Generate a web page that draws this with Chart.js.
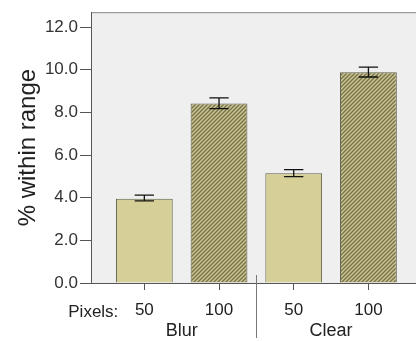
<!DOCTYPE html>
<html><head><meta charset="utf-8">
<script src="https://cdn.jsdelivr.net/npm/chart.js@4/dist/chart.umd.min.js"></script>
<style>html,body{margin:0;padding:0;background:#fff;overflow:hidden}#wrap{width:416px;height:341px;position:relative}</style>
</head><body><div id="wrap"><canvas id="c" width="416" height="341"></canvas></div>
<script>
// ---- data ----
const categories = ['50', '100', '50', '100'];
const groups = ['Blur', 'Clear'];
const groupOf = [0, 0, 1, 1];
const values = [3.95, 8.42, 5.15, 9.88];
const errLow = [3.85, 8.18, 4.99, 9.66];
const errHigh = [4.12, 8.68, 5.32, 10.12];
const yTicks = [0, 2, 4, 6, 8, 10, 12];
const hatched = [false, true, false, true];
const prefixLabel = 'Pixels:';
const yTitle = '% within range';

const FONT = "'Liberation Sans', Arial, sans-serif";

function makeHatch() {
  const c = document.createElement('canvas');
  c.width = 4; c.height = 4;
  const g = c.getContext('2d');
  g.fillStyle = '#ccc692';
  g.fillRect(0, 0, 4, 4);
  g.strokeStyle = '#77724a';
  g.lineWidth = 1.4;
  g.beginPath();
  g.moveTo(-1, 5); g.lineTo(5, -1);
  g.moveTo(-1, 1); g.lineTo(1, -1);
  g.moveTo(3, 5); g.lineTo(5, 3);
  g.stroke();
  return g.createPattern(c, 'repeat');
}
const hatch = makeHatch();
const plain = '#d6cf98';

const groupCenters = groups.map((_, gi) => {
  const idx = groupOf.map((g, i) => g === gi ? i : null).filter(v => v !== null);
  return idx.reduce((a, b) => a + b, 0) / idx.length;
});

const X_MIN = -0.714, X_MAX = 3.637;

const framePlugin = {
  id: 'frame',
  beforeDraw(chart) {
    const {ctx, chartArea: a} = chart;
    ctx.save();
    ctx.fillStyle = '#efefef';
    ctx.fillRect(a.left, a.top, a.right - a.left, a.bottom - a.top);
    ctx.strokeStyle = '#8a8a8a';
    ctx.lineWidth = 1;
    ctx.beginPath();
    ctx.moveTo(a.left, a.top + 0.5);
    ctx.lineTo(a.right, a.top + 0.5);
    ctx.stroke();
    ctx.restore();
  },
  afterDraw(chart) {
    const {ctx, chartArea: a} = chart;
    const xs = chart.scales.x;
    ctx.save();
    const dx = Math.round(xs.getPixelForValue(1.5)) + 0.5;
    ctx.strokeStyle = '#777';
    ctx.lineWidth = 1;
    ctx.beginPath();
    ctx.moveTo(dx, a.bottom - 8);
    ctx.lineTo(dx, chart.height - 3);
    ctx.stroke();
    ctx.fillStyle = '#222';
    ctx.font = '17px ' + FONT;
    ctx.textAlign = 'right';
    ctx.textBaseline = 'middle';
    ctx.fillText(prefixLabel, xs.getPixelForValue(0) - 26, 312);
    ctx.restore();
  }
};

const errPlugin = {
  id: 'err',
  afterDatasetsDraw(chart) {
    const {ctx} = chart;
    const xs = chart.scales.x, ys = chart.scales.y;
    const meta = chart.getDatasetMeta(0);
    ctx.save();
    ctx.strokeStyle = '#111';
    ctx.lineWidth = 1.3;
    values.forEach((v, i) => {
      const x = xs.getPixelForValue(i);
      const w = meta.data[i].width * 0.34 / 2;
      const yl = ys.getPixelForValue(errLow[i]);
      const yh = ys.getPixelForValue(errHigh[i]);
      ctx.beginPath();
      ctx.moveTo(x, yl); ctx.lineTo(x, yh);
      ctx.moveTo(x - w, yl); ctx.lineTo(x + w, yl);
      ctx.moveTo(x - w, yh); ctx.lineTo(x + w, yh);
      ctx.stroke();
    });
    ctx.restore();
  }
};

new Chart(document.getElementById('c'), {
  type: 'bar',
  data: {
    datasets: [{
      data: values.map((v, i) => ({x: i, y: v})),
      backgroundColor: hatched.map(h => h ? hatch : plain),
      borderColor: '#5e5c48',
      borderWidth: 1,
      categoryPercentage: 1,
      barPercentage: 0.76
    }]
  },
  options: {
    responsive: false,
    animation: false,
    devicePixelRatio: 1,
    layout: {padding: {top: 8, right: 0, left: 0, bottom: 0}},
    plugins: {legend: {display: false}, tooltip: {enabled: false}},
    scales: {
      x: {
        type: 'linear', position: 'bottom', min: X_MIN, max: X_MAX, offset: false,
        afterBuildTicks: s => { s.ticks = categories.map((_, i) => ({value: i})); },
        afterFit: s => { s.height = 37; },
        ticks: {
          autoSkip: false, maxRotation: 0, padding: 10, color: '#222',
          font: {family: FONT, size: 17},
          callback: v => categories[Math.round(v)]
        },
        grid: {drawOnChartArea: false, offset: false, tickLength: 7, color: '#555'},
        border: {color: '#555'}
      },
      x2: {
        type: 'linear', position: 'bottom', min: X_MIN, max: X_MAX, offset: false,
        afterBuildTicks: s => { s.ticks = groupCenters.map(v => ({value: v})); },
        afterFit: s => { s.height = 21; },
        ticks: {
          autoSkip: false, maxRotation: 0, padding: 0, color: '#222',
          font: {family: FONT, size: 18},
          callback: (v, i) => groups[i]
        },
        grid: {display: false, drawTicks: false, offset: false},
        border: {display: false}
      },
      y: {
        type: 'linear', min: 0, max: 12.7,
        afterBuildTicks: s => { s.ticks = yTicks.map(v => ({value: v})); },
        afterFit: s => { s.width = 91; },
        ticks: {
          padding: 2, color: '#333',
          font: {family: FONT, size: 17},
          callback: v => v.toFixed(1)
        },
        grid: {drawOnChartArea: false, tickLength: 11, color: '#555'},
        border: {color: '#555'},
        title: {
          display: true, text: yTitle, color: '#222',
          font: {family: FONT, size: 24},
          padding: {top: 14, bottom: 0}
        }
      }
    }
  },
  plugins: [framePlugin, errPlugin]
});
</script>
</body></html>
